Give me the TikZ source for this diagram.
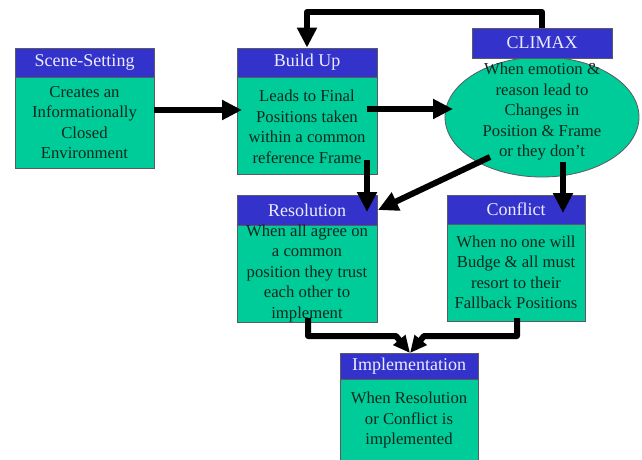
\documentclass[tikz,border=0pt]{standalone}
\usepackage{fontspec}
\setmainfont{Liberation Serif}
\usetikzlibrary{arrows.meta,shapes.geometric}
\definecolor{hdrblue}{RGB}{51,51,204}
\definecolor{bodygreen}{RGB}{0,204,153}
\definecolor{hdrtext}{RGB}{236,236,255}
\definecolor{bodytext}{RGB}{12,40,30}
\definecolor{edge}{RGB}{90,90,100}
\tikzset{
  hdr/.style={rectangle, draw=edge, line width=0.8pt, fill=hdrblue, text=hdrtext,
    inner sep=0pt, font=\fontsize{18}{20}\selectfont},
  bodybox/.style={rectangle, draw=edge, line width=0.8pt, fill=bodygreen, text=bodytext,
    inner sep=0pt, align=center, font=\fontsize{16.7}{20.5}\selectfont},
  bodytxt/.style={inner sep=0pt, align=center, text=bodytext, font=\fontsize{16.7}{20.5}\selectfont},
  bigarrow/.style={draw=black, line width=6pt, line join=round,
    -{Triangle[length=20pt,width=19pt]}},
  mergearrow/.style={draw=black, line width=6pt, line join=round,
    -{Triangle[length=17pt,width=15pt]}}
}
\begin{document}
\begin{tikzpicture}[x=1pt,y=-1pt]
\useasboundingbox (0,0) rectangle (642,459);
\fill[white] (0,0) rectangle (642,459);

% Scene-Setting
\node[hdr, minimum width=139pt, minimum height=29pt] (sceneH) at (84.5,62.5) {Scene-Setting};
\node[bodybox, minimum width=139pt, minimum height=91pt] (sceneB) at (84.5,122.5)
  {Creates an\\Informationally\\Closed\\Environment};

% Build Up
\node[hdr, minimum width=140pt, minimum height=29pt] (buildH) at (307,62.5) {Build Up};
\node[bodybox, minimum width=140pt, minimum height=97pt] (buildB) at (307,125.5) {};
\node[bodytxt] (buildT) at (307,127) {Leads to Final\\Positions taken\\within a common\\reference Frame};

% Climax
\node[ellipse, draw=edge, line width=0.8pt, fill=bodygreen, minimum width=194pt, minimum height=120pt, inner sep=0pt] (climE) at (542,117) {};
\node[bodytxt] (climT) at (542,112) {When emotion \&\\reason lead to\\Changes in\\Position \& Frame\\or they don’t};
\node[hdr, minimum width=140pt, minimum height=30pt] (climH) at (542,43) {CLIMAX};

% Resolution
\node[hdr, minimum width=140pt, minimum height=30pt] (resH) at (307,210) {Resolution};
\node[bodybox, minimum width=140pt, minimum height=97pt] (resB) at (307,273.5) {};
\node[bodytxt] (resT) at (307,273) {When all agree on\\a common\\position they trust\\each other to\\implement};

% Conflict
\node[hdr, minimum width=138pt, minimum height=29pt] (confH) at (516,209.5) {Conflict};
\node[bodybox, minimum width=138pt, minimum height=97pt] (confB) at (516,272.5)
  {When no one will\\Budge \& all must\\resort to their\\Fallback Positions};

% Implementation
\node[hdr, minimum width=138pt, minimum height=26pt] (implH) at (409,366) {Implementation};
\node[bodybox, minimum width=138pt, minimum height=92pt] (implB) at (409,425) {};
\node[bodytxt] (implT) at (409,420) {When Resolution\\or Conflict is\\implemented};

% connector end points
\coordinate (loopR) at (climH.north |- 0,12);
\coordinate (loopL) at (buildH.north |- 0,12);
\coordinate (sceneOut) at (sceneB.east |- 0,110);
\coordinate (buildIn) at (242,110);
\coordinate (buildOut) at (367,109);
\coordinate (climIn) at (453,109);
\coordinate (buildDown) at (367,160);
\coordinate (resIn) at (367,212);
\coordinate (climDiag) at (490,157);
\coordinate (resSide) at (378,210);
\coordinate (climDown) at (563,162);
\coordinate (confIn) at (563,213);
\coordinate (resOut) at (308,318);
\coordinate (confOut) at (517,318);
\coordinate (mergeL) at (396,336);
\coordinate (mergeR) at (424,336);
\coordinate (implIn) at (410,353);

% connectors
\draw[bigarrow] (climH.north) -- (loopR) -- (loopL) -- (buildH.north);
\draw[bigarrow] (sceneOut) -- (buildIn);
\draw[bigarrow] (buildOut) -- (climIn);
\draw[bigarrow] (buildDown) -- (resIn);
\draw[bigarrow] (climDiag) -- (resSide);
\draw[bigarrow] (climDown) -- (confIn);
\draw[mergearrow] (resOut) |- (mergeL) -- (implIn);
\draw[mergearrow] (confOut) |- (mergeR) -- (implIn);
\end{tikzpicture}
\end{document}
